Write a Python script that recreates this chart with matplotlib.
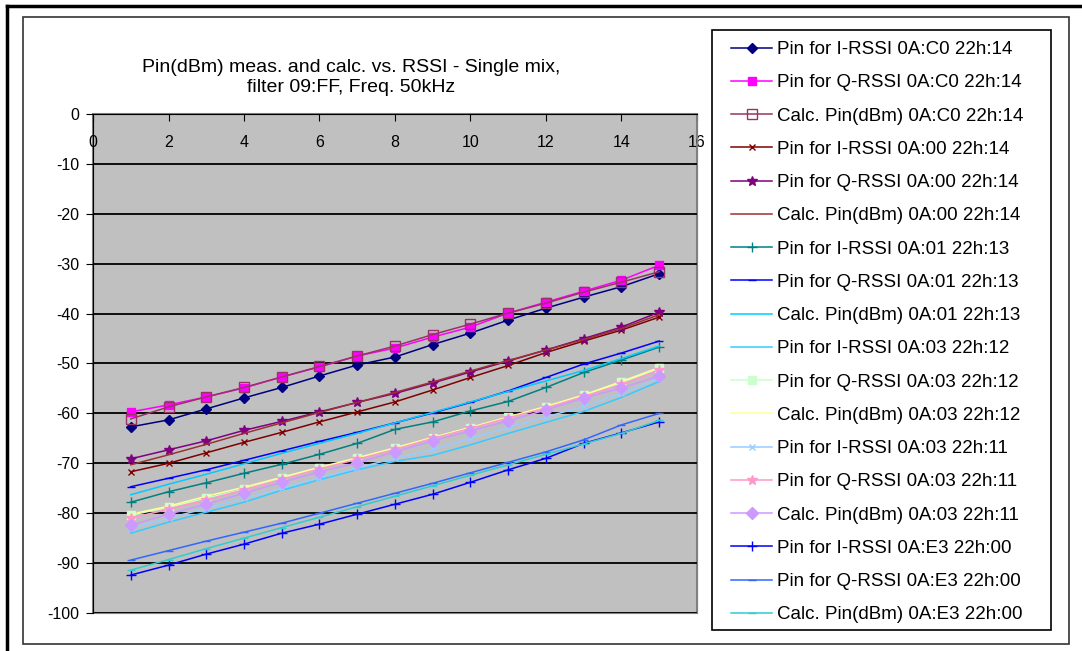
import numpy as np
import matplotlib
matplotlib.use('Agg')
import matplotlib.pyplot as plt
from matplotlib.patches import Rectangle
from matplotlib.lines import Line2D

plt.rcParams['font.family'] = ['Liberation Sans', 'DejaVu Sans']
plt.rcParams['axes.unicode_minus'] = False

# datos
rssi = [1, 2, 3, 4, 5, 6, 7, 8, 9, 10, 11, 12, 13, 14, 15]

i_c0 = [-62.7, -61.3, -59.1, -56.9, -54.8, -52.5, -50.3, -48.7, -46.2, -43.9, -41.3, -38.9, -36.7, -34.6, -32.0]
q_c0 = [-59.7, -58.3, -56.7, -54.9, -52.7, -50.7, -48.5, -46.9, -44.7, -42.7, -39.9, -37.7, -35.5, -33.3, -30.3]
calc_c0 = [-61.1, -58.7, -56.7, -54.8, -52.7, -50.6, -48.5, -46.5, -44.2, -42.1, -39.9, -37.9, -35.7, -33.7, -31.6]

i_00 = [-71.7, -70.0, -67.9, -65.8, -63.8, -61.7, -59.7, -57.7, -55.3, -52.8, -50.4, -47.8, -45.5, -43.3, -40.7]
q_00 = [-69.1, -67.3, -65.5, -63.4, -61.6, -59.7, -57.8, -56.0, -53.9, -51.7, -49.5, -47.3, -45.0, -42.7, -39.7]
calc_00 = [-70.3, -68.3, -66.2, -64.0, -61.9, -59.8, -57.8, -55.8, -53.7, -51.5, -49.4, -47.3, -45.2, -43.0, -40.2]

i_01 = [-77.8, -75.7, -73.9, -72.0, -70.2, -68.2, -66.0, -63.2, -61.7, -59.5, -57.6, -54.8, -51.8, -49.3, -46.7]
q_01 = [-74.7, -73.0, -71.3, -69.4, -67.5, -65.6, -63.8, -61.9, -59.9, -57.8, -55.5, -52.8, -50.1, -47.9, -45.5]
calc_01 = [-76.3, -74.2, -72.2, -70.1, -68.0, -66.0, -64.0, -61.9, -59.8, -57.7, -55.6, -53.5, -51.4, -49.0, -46.5]

i_03_12 = [-84.0, -81.8, -79.8, -77.8, -75.4, -73.3, -71.3, -69.6, -68.4, -66.3, -64.0, -61.8, -59.6, -56.8, -53.6]
q_03_12 = [-80.4, -78.8, -77.0, -75.2, -73.0, -71.0, -69.0, -67.0, -64.9, -62.9, -60.8, -58.8, -56.4, -53.8, -51.0]
calc_03_12 = [-80.2, -78.6, -76.6, -74.8, -72.8, -70.8, -68.9, -66.9, -64.8, -62.8, -60.7, -58.6, -56.3, -53.6, -50.8]

i_03_11 = [-83.0, -81.0, -79.0, -77.0, -75.0, -72.9, -70.9, -69.0, -67.2, -65.0, -62.8, -60.7, -58.6, -56.0, -53.0]
q_03_11 = [-81.0, -79.2, -77.3, -75.3, -73.2, -71.1, -69.2, -67.2, -65.0, -63.0, -60.9, -58.9, -56.6, -54.2, -51.3]
calc_03_11 = [-82.4, -80.2, -78.2, -76.0, -73.8, -71.7, -69.9, -67.7, -65.5, -63.5, -61.5, -59.3, -56.9, -54.9, -52.5]

i_e3 = [-92.4, -90.4, -88.2, -86.2, -84.0, -82.2, -80.2, -78.2, -76.2, -73.8, -71.3, -69.0, -66.0, -63.9, -61.7]
q_e3 = [-89.4, -87.5, -85.6, -83.8, -82.0, -80.0, -78.0, -76.0, -74.0, -71.9, -69.8, -67.7, -65.3, -62.3, -60.0]
calc_e3 = [-91.4, -89.3, -87.1, -85.0, -82.9, -80.8, -78.7, -76.6, -74.5, -72.4, -70.3, -68.2, -66.1, -64.0, -61.4]

labels = ['Pin for I-RSSI 0A:C0 22h:14', 'Pin for Q-RSSI 0A:C0 22h:14', 'Calc. Pin(dBm) 0A:C0 22h:14',
          'Pin for I-RSSI 0A:00 22h:14', 'Pin for Q-RSSI 0A:00 22h:14', 'Calc. Pin(dBm) 0A:00 22h:14',
          'Pin for I-RSSI 0A:01 22h:13', 'Pin for Q-RSSI 0A:01 22h:13', 'Calc. Pin(dBm) 0A:01 22h:13',
          'Pin for I-RSSI 0A:03 22h:12', 'Pin for Q-RSSI 0A:03 22h:12', 'Calc. Pin(dBm) 0A:03 22h:12',
          'Pin for I-RSSI 0A:03 22h:11', 'Pin for Q-RSSI 0A:03 22h:11', 'Calc. Pin(dBm) 0A:03 22h:11',
          'Pin for I-RSSI 0A:E3 22h:00', 'Pin for Q-RSSI 0A:E3 22h:00', 'Calc. Pin(dBm) 0A:E3 22h:00']
series = [i_c0, q_c0, calc_c0, i_00, q_00, calc_00, i_01, q_01, calc_01,
          i_03_12, q_03_12, calc_03_12, i_03_11, q_03_11, calc_03_11, i_e3, q_e3, calc_e3]

# estilo: color, marcador, tamano, relleno
estilos = [('#000080', 'D', 5, None), ('#FF00FF', 's', 6, None), ('#993366', 's', 7, 'none'),
           ('#800000', 'x', 5, None), ('#800080', '*', 7, None), ('#993333', '', 0, None),
           ('#008080', '+', 7, None), ('#0000FF', '_', 6, None), ('#00CCFF', '', 0, None),
           ('#33CCFF', '', 0, None), ('#CCFFCC', 's', 6, None), ('#FFFF99', '', 0, None),
           ('#99CCFF', 'x', 5, None), ('#FF99CC', '*', 7, None), ('#CC99FF', 'D', 6, None),
           ('#0000FF', '+', 7, None), ('#3366FF', '_', 6, None), ('#33CCCC', '_', 6, None)]

fig = plt.figure(figsize=(10.82, 6.51), dpi=100)
W, H = 1082, 651

# marcos exteriores
fig.add_artist(Line2D([7 / W, 1], [1 - 6 / H, 1 - 6 / H], color='black', lw=2.5))
fig.add_artist(Line2D([7 / W, 7 / W], [0, 1 - 6 / H], color='black', lw=2.5))
fig.add_artist(Rectangle((23 / W, 1 - 644 / H), (1069 - 23) / W, (644 - 17) / H,
                         fill=False, edgecolor='#333333', lw=1.2))
# marco de la leyenda
fig.add_artist(Rectangle((712 / W, 1 - 630 / H), (1051 - 712) / W, (630 - 30) / H,
                         fill=False, edgecolor='black', lw=1.2))

ax = fig.add_axes([93 / W, 1 - 613 / H, 604 / W, 499 / H])
ax.set_facecolor('#C0C0C0')

for y, lab, (c, m, ms, mfc) in zip(series, labels, estilos):
    kw = dict(color=c, lw=1.1, label=lab)
    if m:
        kw.update(marker=m, markersize=ms, markeredgecolor=c, markerfacecolor=mfc if mfc else c)
    ax.plot(rssi, y, **kw)

ax.set_xlim(0, 16)
ax.set_ylim(-100, 0)
ax.set_xticks(np.arange(0, 17, 2))
ax.set_yticks(np.arange(-100, 1, 10))
ax.yaxis.grid(True, color='black', lw=1.3)
ax.set_axisbelow(True)

ax.spines['bottom'].set_position(('data', 0))
ax.spines['bottom'].set_color('black')
ax.spines['top'].set_visible(False)
ax.spines['left'].set_color('black')
ax.spines['right'].set_color('#808080')
ax.add_patch(Rectangle((0, 0), 1, 1, transform=ax.transAxes, fill=False,
                       edgecolor='#808080', lw=1.5, clip_on=False, zorder=0.5))
ax.tick_params(axis='x', direction='out', length=5, pad=10, labelsize=11.5)
ax.tick_params(axis='y', direction='out', length=5, pad=5, labelsize=11.5)

fig.text(351 / W, 1 - 67 / H, 'Pin(dBm) meas. and calc. vs. RSSI - Single mix,',
         ha='center', va='center', fontsize=14)
fig.text(351 / W, 1 - 87 / H, 'filter 09:FF, Freq. 50kHz', ha='center', va='center', fontsize=14)

leg = ax.legend(loc='upper left', bbox_to_anchor=(731 / W, 1 - 41 / H),
                bbox_transform=fig.transFigure, fontsize=13.5, labelspacing=0.86,
                handlelength=2.2, handletextpad=0.27, borderpad=0, borderaxespad=0,
                frameon=False)

plt.savefig('out.png', dpi=100)
